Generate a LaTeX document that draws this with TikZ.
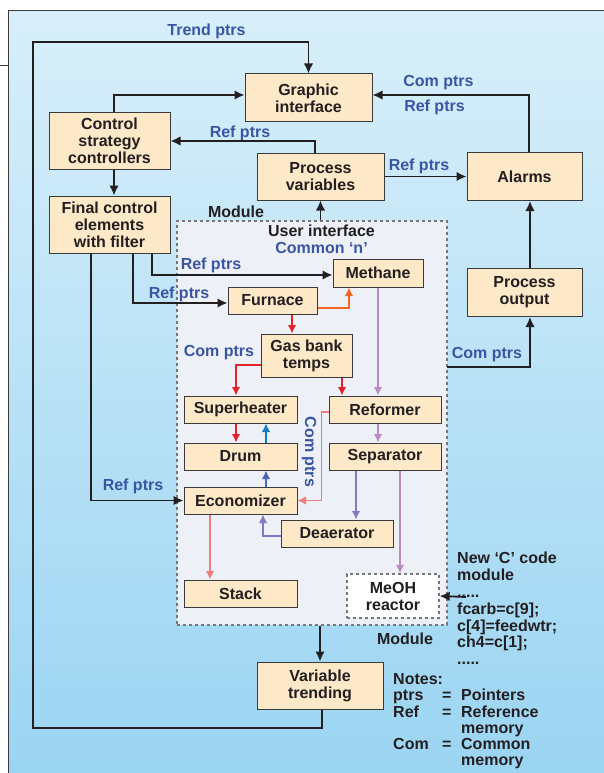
\documentclass[tikz,border=0pt]{standalone}
\usepackage{fontspec}
\setmainfont{Liberation Sans}
\usepackage{tikz}
\usetikzlibrary{arrows.meta,positioning,calc}
\definecolor{dgBoxFill}{HTML}{FDE8C8}
\definecolor{dgBoxLine}{HTML}{3A3A3C}
\definecolor{dgInk}{HTML}{231F20}
\definecolor{dgPtr}{HTML}{3A55A6}
\definecolor{dgSkyTop}{HTML}{D8EFFA}
\definecolor{dgSkyBot}{HTML}{9AD4F2}
\definecolor{dgModule}{HTML}{EDF0F6}
\definecolor{dgDash}{HTML}{77777A}
\definecolor{dgRed}{HTML}{E52228}
\definecolor{dgOrange}{HTML}{F26522}
\definecolor{dgOrchid}{HTML}{B98BC4}
\definecolor{dgSlate}{HTML}{8479C1}
\definecolor{dgSalmon}{HTML}{F07B7B}
\definecolor{dgSteam}{HTML}{1279C0}
\definecolor{dgFeed}{HTML}{4B68B8}
\newcommand{\dgfont}{\fontsize{16}{17}\selectfont\bfseries}
\tikzset{
    dgBox/.style 2 args={
        rectangle,
        draw=dgBoxLine,
        line width=1pt,
        fill=dgBoxFill,
        minimum width=#1,
        minimum height=#2,
        inner sep=1pt,
        align=center,
        font=\dgfont,
        text=dgInk
    },
    % Dashed variants
    dgModuleBox/.style={rectangle, draw=dgDash, dashed, line width=1.3pt, fill=dgModule},
    dgReactor/.style={dgBox={92pt}{44pt}, fill=white, draw=dgDash, dashed, line width=1.3pt},
    % Text
    dgPtrLabel/.style={font=\dgfont, text=dgPtr, inner sep=0pt},
    dgText/.style={font=\dgfont, text=dgInk, inner sep=0pt},
    % Arrows
    dgArrow/.style={-{Latex[length=10pt,width=9.5pt]}, line width=1.8pt, draw=dgInk},
    dgFlow/.style={-{Latex[length=8.5pt,width=8.5pt]}, line width=1.5pt, draw=#1}
}
\begin{document}
\begin{tikzpicture}[x=1pt, y=-1pt]
\useasboundingbox (0,0) rectangle (604,773);
\shade[top color=dgSkyTop, bottom color=dgSkyBot, draw=dgBoxLine, line width=1pt] (8.5,11) rectangle (615,785);
\draw[dgBoxLine, line width=1pt] (0,66) -- (8.5,66);

\node[dgModuleBox, minimum width=270pt, minimum height=404pt] (module) at (312,423) {};

\node[dgBox={127pt}{48pt}] (gfx) at (308.5,98) {Graphic\\interface};
\node[dgBox={121pt}{56pt}] (ctrl) at (109.5,141) {Control\\strategy\\controllers};
\node[dgBox={121pt}{57pt}, below=26pt of ctrl] (fce) {Final control\\elements\\with filter};
\node[dgBox={127pt}{47pt}] (pvar) at (320.5,176.5) {Process\\variables};
\node[dgBox={115pt}{48pt}, right=82pt of pvar] (alarms) {Alarms};
\node[dgBox={115pt}{48pt}, below=67pt of alarms] (pout) {Process\\output};
\node[dgBox={126pt}{47pt}] (vtrend) at (320,685.5) {Variable\\trending};

\node[dgBox={90pt}{28pt}] (meth) at (378,273) {Methane};
\node[dgBox={89pt}{27pt}] (furn) at (272.5,300.5) {Furnace};
\node[dgBox={91pt}{43pt}] (gas) at (306.5,355.5) {Gas bank\\temps};
\node[dgBox={113pt}{27pt}] (sh) at (240.5,409.5) {Superheater};
\node[dgBox={113pt}{27pt}, below=19pt of sh] (drum) {Drum};
\node[dgBox={113pt}{27pt}, below=16pt of drum] (econ) {Economizer};
\node[dgBox={113pt}{27pt}, below=65pt of econ] (stack) {Stack};
\node[dgBox={112pt}{27pt}, right=31pt of sh] (ref) {Reformer};
\node[dgBox={112pt}{27pt}, below=19pt of ref] (sep) {Separator};
\node[dgBox={112pt}{27pt}] (dea) at (337,533.5) {Deaerator};
\node[dgReactor] (meoh) at (393,596) {MeOH\\reactor};

\node[dgText] (modTop) at (236,212) {Module};
\node[dgText] (modBot) at (405,639) {Module};
\node[dgText, align=center] (ui) at (321.5,239.5) {User interface\\\textcolor{dgPtr}{Common ‘n’}};
\node[dgText, align=left, anchor=north west, font=\fontsize{16}{16.8}\selectfont\bfseries] (code) at (457,552)
    {New ‘C’ code\\module\\.....\\fcarb=c[9];\\c[4]=feedwtr;\\ch4=c[1];\\.....};
\node[dgText, anchor=north west] (notes) at (393,673) {\fontsize{16}{16}\selectfont\bfseries
    \begin{tabular}{@{}p{49pt}@{}p{19pt}@{}l@{}}
    \multicolumn{3}{@{}l}{Notes:}\\
    ptrs & = & Pointers\\
    Ref & = & Reference\\
     & & memory\\
    Com & = & Common\\
     & & memory
    \end{tabular}};

\node[dgPtrLabel] (lTrend) at (206.5,31) {Trend ptrs};
\node[dgPtrLabel] (lGfxCom) at (438.5,83) {Com ptrs};
\node[dgPtrLabel] (lGfxRef) at (434.5,107) {Ref ptrs};
\node[dgPtrLabel] (lCtrlRef) at (240,133) {Ref ptrs};
\node[dgPtrLabel] (lAlmRef) at (419,166) {Ref ptrs};
\node[dgPtrLabel] (lMethRef) at (211,265) {Ref ptrs};
\node[dgPtrLabel] (lFurnRef) at (179,294) {Ref ptrs};
\node[dgPtrLabel] (lGasCom) at (219,353) {Com ptrs};
\node[dgPtrLabel] (lEconRef) at (133,486) {Ref ptrs};
\node[dgPtrLabel] (lOutCom) at (487,355) {Com ptrs};
\node[dgPtrLabel, rotate=-90] (lRefCom) at (309,452) {Com ptrs};

\coordinate (loopTop) at (33,42);
\coordinate (loopBot) at (33,728);
\coordinate (comOut) at (447,367);
\coordinate (codeIn) at (466,597);

\draw[dgArrow] ([xshift=2pt]vtrend.south) |- (loopBot) -- (loopTop) -| (gfx.north);
\draw[dgArrow] ([xshift=4.5pt]ctrl.north) |- ([yshift=3pt]gfx.west);
\draw[dgArrow] ([xshift=4.5pt]alarms.north) |- ([yshift=3pt]gfx.east);
\draw[dgArrow] ([xshift=-5.5pt]pvar.north) |- (ctrl.east);
\draw[dgArrow] (pvar.east) -- (alarms.west);
\draw[dgArrow] ([xshift=5.5pt]pout.north) -- ([xshift=5.5pt]alarms.south);
\draw[dgArrow] ([xshift=4.5pt]ctrl.south) -- ([xshift=4.5pt]fce.north);
\draw[dgArrow] (module.north -| pvar.south) -- (pvar.south);
\draw[dgArrow] (module.south -| vtrend.north) -- (vtrend.north);
\draw[dgArrow] ([xshift=-18.5pt]fce.south) |- (econ.west);
\draw[dgArrow] ([xshift=23.5pt]fce.south) |- ([yshift=-2.5pt]furn.west);
\draw[dgArrow] ([xshift=42.5pt]fce.south) |- ([yshift=-2pt]meth.west);
\draw[dgArrow] (comOut) -| ([xshift=5.5pt]pout.south);
\draw[dgArrow] (codeIn) -- (meoh.east);

\draw[dgFlow=dgOrange] ([yshift=-7.5pt]furn.east) -| ([xshift=-29pt]meth.south);
\draw[dgFlow=dgRed] ([xshift=19.5pt]furn.south) coordinate (f1) -- (f1 |- gas.north);
\draw[dgFlow=dgRed] ([yshift=-9.5pt]gas.west) -| ([xshift=-4.5pt]sh.north);
\draw[dgFlow=dgRed] ([xshift=35.5pt]gas.south) coordinate (g1) -- (g1 |- ref.north);
\draw[dgFlow=dgOrchid] (meth.south) -- (meth.south |- ref.north);
\draw[dgFlow=dgOrchid] (ref.south -| meth.south) -- (sep.north -| meth.south);
\draw[dgFlow=dgRed] ([xshift=-4.5pt]sh.south) -- ([xshift=-4.5pt]drum.north);
\draw[dgFlow=dgSteam] ([xshift=25.5pt]drum.north) -- ([xshift=25.5pt]sh.south);
\draw[dgFlow=dgFeed] ([xshift=25.5pt]econ.north) -- ([xshift=25.5pt]drum.south);
\draw[dgFlow=dgSalmon] ([yshift=-2.5pt]ref.west) -- ++(-7pt,0) |- (econ.east);
\draw[dgFlow=dgSlate] ([xshift=-29pt]sep.south) coordinate (s1) -- (s1 |- dea.north);
\draw[dgFlow=dgOrchid] ([xshift=15pt]sep.south) coordinate (s2) -- (s2 |- meoh.north);
\draw[dgFlow=dgSlate] ([yshift=-2.5pt]dea.west) -| ([xshift=22.5pt]econ.south);
\draw[dgFlow=dgSalmon] ([xshift=-30.5pt]econ.south) -- ([xshift=-30.5pt]stack.north);
\end{tikzpicture}
\end{document}
